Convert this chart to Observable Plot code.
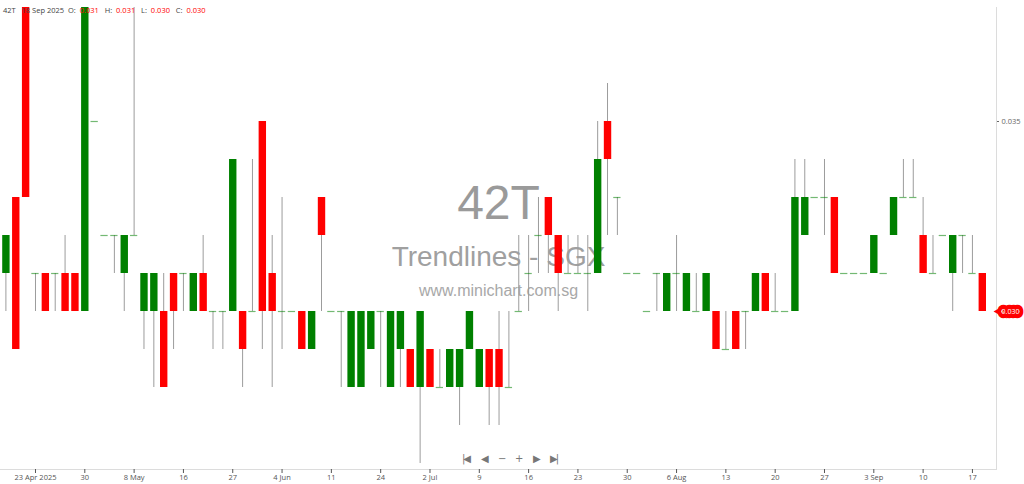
<!DOCTYPE html>
<html>
<head>
<meta charset="utf-8">
<script src="https://cdn.jsdelivr.net/npm/d3@7"></script>
<script src="https://cdn.jsdelivr.net/npm/@observablehq/plot@0.6"></script>
<style>
  html, body { margin: 0; padding: 0; background: #fff; }
  #wrap { position: relative; width: 1024px; height: 484px; overflow: hidden; }
  #hdr { position: absolute; left: 3px; top: 5px; font: 7.5px "Open Sans", "DejaVu Sans", sans-serif; color: #444; white-space: pre; }
  #hdr .v { color: #f00; }
  .nav { position: absolute; top: 453px; font: 10px "DejaVu Sans", sans-serif; color: #777; }
</style>
</head>
<body>
<div id="wrap">
  <div id="chart"></div>
  <div id="hdr"></div>
</div>
<script>
// ---- data (one candle per trading session, 42T, Apr–Sep 2025) ----
const symbol = "42T";
const lastDate = "18 Sep 2025";
const open = [
  0.031,0.033,0.038,0.031,0.031,0.031,0.031,0.031,0.030,0.035,
  0.032,0.032,0.031,0.032,0.030,0.030,0.030,0.031,0.031,0.030,
  0.031,0.030,0.030,0.030,0.030,0.030,0.035,0.031,0.030,0.030,
  0.030,0.029,0.033,0.030,0.030,0.028,0.028,0.029,0.030,0.028,
  0.029,0.029,0.028,0.029,0.028,0.028,0.028,0.029,0.028,0.029,
  0.029,0.028,0.030,0.031,0.032,0.033,0.032,0.031,0.031,0.031,
  0.031,0.035,0.033,0.031,0.031,0.030,0.031,0.030,0.031,0.030,
  0.030,0.030,0.030,0.029,0.030,0.030,0.030,0.031,0.030,0.030,
  0.030,0.032,0.033,0.033,0.033,0.031,0.031,0.031,0.031,0.031,
  0.032,0.033,0.033,0.032,0.031,0.032,0.031,0.032,0.031,0.031
];
const high = [
  0.032,0.033,0.038,0.031,0.031,0.031,0.032,0.031,0.038,0.035,
  0.032,0.032,0.032,0.038,0.031,0.031,0.031,0.031,0.031,0.031,
  0.032,0.030,0.030,0.034,0.030,0.034,0.035,0.032,0.033,0.030,
  0.030,0.030,0.033,0.030,0.030,0.030,0.030,0.030,0.030,0.030,
  0.030,0.029,0.030,0.029,0.029,0.029,0.029,0.030,0.029,0.029,
  0.030,0.030,0.032,0.032,0.033,0.033,0.032,0.032,0.032,0.032,
  0.035,0.036,0.033,0.031,0.031,0.030,0.031,0.031,0.032,0.031,
  0.031,0.031,0.030,0.030,0.030,0.030,0.031,0.031,0.031,0.030,
  0.034,0.034,0.033,0.034,0.033,0.031,0.031,0.031,0.032,0.031,
  0.033,0.034,0.034,0.033,0.032,0.032,0.032,0.032,0.032,0.031
];
const low = [
  0.030,0.029,0.033,0.030,0.030,0.030,0.030,0.030,0.030,0.035,
  0.032,0.031,0.030,0.032,0.029,0.028,0.028,0.029,0.030,0.030,
  0.030,0.029,0.029,0.030,0.028,0.030,0.029,0.028,0.029,0.030,
  0.029,0.029,0.030,0.030,0.028,0.028,0.028,0.029,0.028,0.028,
  0.028,0.028,0.026,0.028,0.028,0.028,0.027,0.029,0.028,0.027,
  0.027,0.028,0.030,0.030,0.031,0.031,0.030,0.031,0.031,0.030,
  0.031,0.032,0.032,0.031,0.031,0.030,0.030,0.030,0.030,0.030,
  0.030,0.030,0.029,0.029,0.029,0.029,0.030,0.030,0.030,0.030,
  0.030,0.032,0.033,0.032,0.031,0.031,0.031,0.031,0.031,0.031,
  0.032,0.033,0.033,0.031,0.031,0.032,0.030,0.031,0.031,0.030
];
const close = [
  0.032,0.029,0.033,0.031,0.030,0.031,0.030,0.030,0.038,0.035,
  0.032,0.032,0.032,0.032,0.031,0.031,0.028,0.030,0.031,0.031,
  0.030,0.030,0.030,0.034,0.029,0.030,0.030,0.030,0.030,0.030,
  0.029,0.030,0.032,0.030,0.030,0.030,0.030,0.030,0.030,0.030,
  0.030,0.028,0.030,0.028,0.028,0.029,0.029,0.030,0.029,0.028,
  0.028,0.028,0.030,0.031,0.032,0.032,0.031,0.031,0.031,0.031,
  0.034,0.034,0.033,0.031,0.031,0.030,0.031,0.031,0.031,0.031,
  0.030,0.031,0.029,0.029,0.029,0.030,0.031,0.030,0.030,0.030,
  0.033,0.033,0.033,0.033,0.031,0.031,0.031,0.031,0.032,0.031,
  0.033,0.033,0.033,0.031,0.031,0.032,0.032,0.032,0.031,0.030
];
const tickIdx = [3,8,13,18,23,28,33,38,43,48,53,58,63,68,73,78,83,88,93,98];
const tickLabels = ["23 Apr 2025","30","8 May","16","27","4 Jun","11","24","2 Jul","9",
                    "16","23","30","6 Aug","13","20","27","3 Sep","10","17"];
const priceTicks = [0.030, 0.035];
const watermark = ["42T", "Trendlines - SGX", "www.minichart.com.sg"];

// ---- derived tables ----
const idx = d3.range(open.length);
const bodies = idx.filter(i => open[i] !== close[i]);
const dojis = idx.filter(i => open[i] === close[i]);
const wicks = idx.filter(i => high[i] > low[i]);
const last = idx.length - 1;
const f3 = d3.format(".3f");
const GREEN = "#008000", RED = "#ff0000";

const chart = Plot.plot({
  width: 1024, height: 484,
  marginTop: 7, marginBottom: 15, marginLeft: 0, marginRight: 28,
  style: { fontFamily: "'Open Sans', 'DejaVu Sans', sans-serif", background: "white", overflow: "visible" },
  x: { domain: [0, last], range: [5.4, 981.8] },
  y: { domain: [0.030, 0.035], range: [311, 121] },
  marks: [
    Plot.text([watermark[0]], { frameAnchor: "middle", dy: -35, text: d => d, fontSize: 48, fill: "#9a9a9a", fontFamily: "'Liberation Sans', Arial, sans-serif" }),
    Plot.text([watermark[1]], { frameAnchor: "middle", dy: 19, text: d => d, fontSize: 28, fill: "#a0a0a0", fontFamily: "'Liberation Sans', Arial, sans-serif" }),
    Plot.text([watermark[2]], { frameAnchor: "middle", dy: 52, text: d => d, fontSize: 16, fill: "#a8a8a8", fontFamily: "'Liberation Sans', Arial, sans-serif" }),
    Plot.frame({ anchor: "bottom", stroke: "#dcdcdc" }),
    Plot.frame({ anchor: "right", stroke: "#dcdcdc" }),
    Plot.ruleX(wicks, { x: i => i, y1: i => low[i], y2: i => high[i], stroke: "#9c9c9c", strokeWidth: 1 }),
    Plot.ruleX(bodies, { x: i => i, y1: i => open[i], y2: i => close[i],
      stroke: i => close[i] > open[i] ? GREEN : RED, strokeWidth: 7.4 }),
    Plot.ruleY(dojis, { y: i => close[i], x1: i => i - 0.37, x2: i => i + 0.37, stroke: GREEN, strokeOpacity: 0.55, strokeWidth: 1.2 }),
    Plot.axisX({ ticks: tickIdx, tickFormat: d => tickLabels[tickIdx.indexOf(d)], tickSize: 4, tickPadding: 1, fontSize: 7.5, color: "#555" }),
    Plot.axisY({ anchor: "right", ticks: priceTicks, tickFormat: f3, tickSize: 2, tickPadding: 3, fontSize: 7.5, color: "#666" }),
    Plot.dot([close[last]], { y: d => d, frameAnchor: "right", dx: 2, symbol: "triangle", rotate: -90, r: 3.2, fill: RED }),
    Plot.text([close[last]], { y: d => d, frameAnchor: "right", dx: 14, text: d => f3(d), fill: "white", stroke: RED, strokeWidth: 8.5, fontSize: 7, textAnchor: "middle" })
  ]
});
document.getElementById("chart").appendChild(chart);

// header readout for the last session
document.getElementById("hdr").innerHTML =
  `${symbol}   ${lastDate}  O:  <span class="v">${f3(open[last])}</span>   H:  <span class="v">${f3(high[last])}</span>   L:  <span class="v">${f3(low[last])}</span>   C:  <span class="v">${f3(close[last])}</span>`;

// navigation controls under the chart
const navGlyphs = ["|◀", "◀", "−", "+", "▶", "▶|"];
const navX = [462, 481, 498, 515, 533, 550];
const wrap = document.getElementById("wrap");
navGlyphs.forEach((g, k) => {
  const s = document.createElement("span");
  s.className = "nav";
  s.style.left = navX[k] + "px";
  s.style.letterSpacing = "-2px";
  s.textContent = g;
  wrap.appendChild(s);
});
</script>
</body>
</html>
